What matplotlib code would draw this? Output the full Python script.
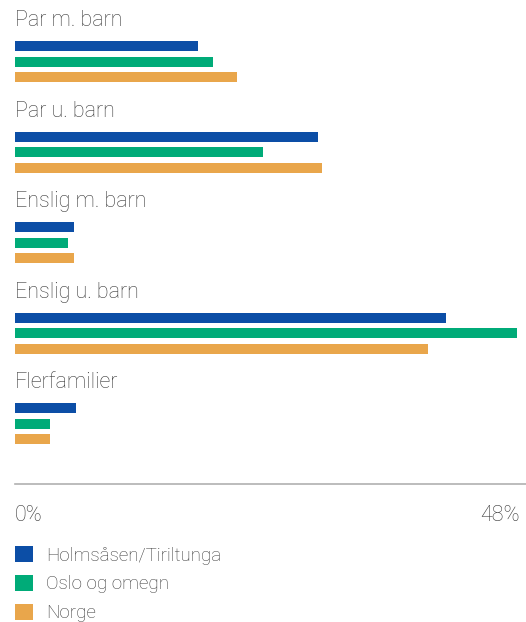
import matplotlib
matplotlib.use('Agg')
import matplotlib.pyplot as plt
from matplotlib.patches import Patch

categories = ['Par m. barn', 'Par u. barn', 'Enslig m. barn', 'Enslig u. barn', 'Flerfamilier']
series_names = ['Holmsåsen/Tiriltunga', 'Oslo og omegn', 'Norge']
holmsasen = [17.4, 28.8, 5.6, 41.0, 5.8]
oslo = [18.8, 23.6, 5.0, 47.7, 3.3]
norge = [21.1, 29.2, 5.6, 39.3, 3.3]
tick_values = [0, 48]
tick_labels = ['0%', '48%']

colors = ['#0c4ea6', '#00ab78', '#e9a64b']
text_color = '#3a3a3a'

plt.rcParams['font.family'] = ['Roboto', 'DejaVu Sans']

W, H = 526, 622
fig = plt.figure(figsize=(W / 100, H / 100), dpi=100)
# axes spans x 15..526 px, y 0..484 px (bottom line at 484)
ax = fig.add_axes([15 / W, 1 - 484 / H, (W - 15) / W, 484 / H])
ax.set_xlim(0, 48 * (W - 15) / 505)
ax.set_ylim(484, 0)

group_step = 90.6
bar_step = 15.5
bar_h = 10
first_bar = 46

all_series = [holmsasen, oslo, norge]
for i, cat in enumerate(categories):
    base = first_bar + group_step * i
    ax.text(0, base - 25.5, cat, fontsize=15.5, fontweight='light',
            color=text_color, va='center', ha='left')
    for j, vals in enumerate(all_series):
        ax.barh(base + bar_step * j, vals[i], height=bar_h, color=colors[j],
                left=0, linewidth=0)

for s in ['top', 'left', 'right']:
    ax.spines[s].set_visible(False)
ax.spines['bottom'].set_color('#b0b0b0')
ax.spines['bottom'].set_linewidth(1.2)
ax.set_yticks([])
ax.set_xticks(tick_values)
ax.set_xticklabels(tick_labels, fontsize=15.5, fontweight='light', color=text_color)
ax.tick_params(axis='x', length=0, pad=15)
labs = ax.get_xticklabels()
labs[0].set_ha('left')
labs[-1].set_ha('right')

handles = [Patch(facecolor=c, edgecolor='none') for c in colors]
fig.legend(handles, series_names, loc='upper left',
           bbox_to_anchor=(15 / W, 1 - 546 / H), frameon=False,
           prop={'weight': 'light', 'size': 13.5},
           handlelength=0.95, handleheight=0.95, handletextpad=0.7,
           labelspacing=0.55, borderpad=0, borderaxespad=0,
           labelcolor=text_color)

fig.savefig('out.png', dpi=100)
